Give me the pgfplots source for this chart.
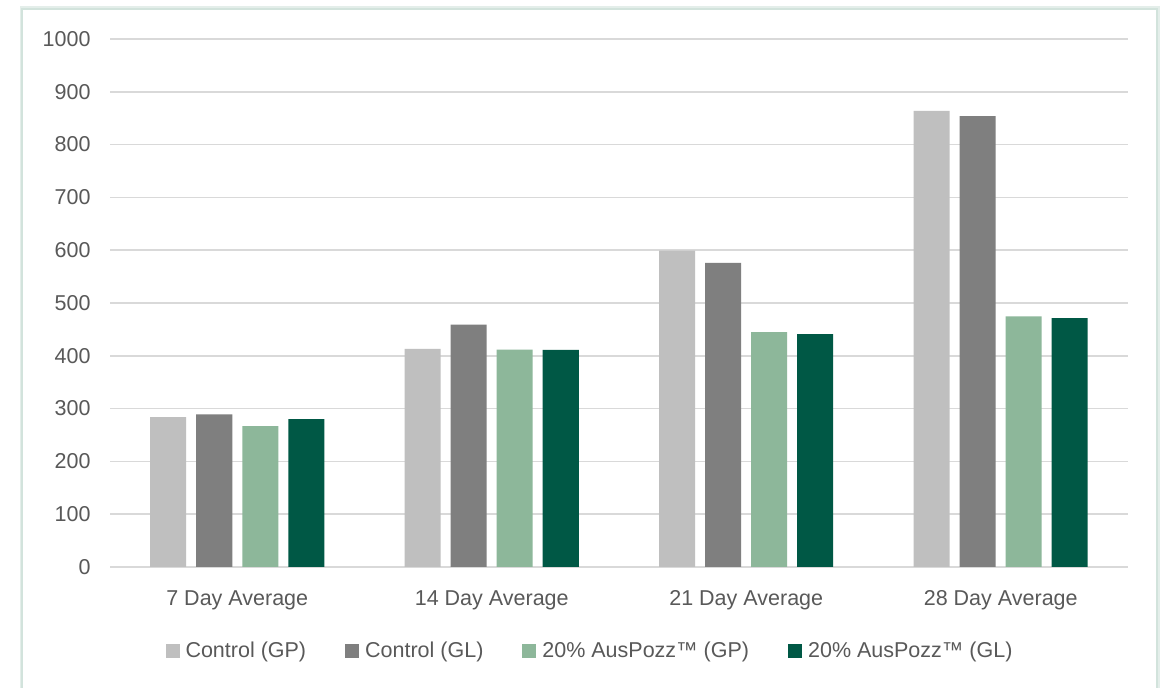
\documentclass[border=0pt]{standalone}
\usepackage{fontspec}
\setmainfont{Liberation Sans}
\usepackage{pgfplots}
\pgfplotsset{compat=1.18}
\definecolor{ctrlGP}{HTML}{BFBFBF}
\definecolor{ctrlGL}{HTML}{7F7F7F}
\definecolor{ausGP}{HTML}{8DB79A}
\definecolor{ausGL}{HTML}{005845}
\definecolor{txt}{HTML}{595959}
\definecolor{gridc}{HTML}{D9D9D9}
\definecolor{frame}{HTML}{D2E3DC}
\pgfplotsset{
  sqlegend/.style={legend image code/.code={\fill[##1] (0bp,-7bp) rectangle (14bp,7bp);}},
}
\begin{document}
\begin{tikzpicture}[x=1bp,y=1bp]
  \path[use as bounding box] (0,0) rectangle (1168,688);
  \fill[white] (0,0) rectangle (1168,688);
  \draw[frame!60, line width=5bp] (22,-10) rectangle (1157,679);
  \draw[frame, line width=1.5bp, fill=white] (22,-10) rectangle (1157,679);
  \begin{axis}[
    at={(110bp,121bp)}, anchor=south west,
    scale only axis, width=1018bp, height=528bp,
    ybar=10bp, bar width=36bp,
    xmin=-0.5, xmax=3.5, ymin=0, ymax=1000,
    xtick=data,
    xticklabels={7 Day Average,14 Day Average,21 Day Average,28 Day Average},
    ytick={0,100,...,1000},
    font=\fontsize{21.5bp}{24bp}\selectfont,
    tick label style={text=txt},
    x tick label style={yshift=-20bp},
    y tick label style={xshift=-16bp},
    /pgf/number format/assume math mode=true,
    /pgf/number format/1000 sep={},
    major tick length=0pt,
    axis line style={draw=none},
    ymajorgrids, grid style={gridc, line width=1.5bp},
    legend style={at={(0.4715,-0.159)}, anchor=center, draw=none, fill=none,
      legend columns=4, text=txt, font=\fontsize{21.5bp}{24bp}\selectfont,
      /tikz/every odd column/.append style={column sep=4bp},
      /tikz/every even column/.append style={column sep=37bp}},
    legend cell align=left,
  ]
  \addplot[fill=ctrlGP, draw=none, sqlegend] coordinates {(0,284) (1,413) (2,599) (3,864)};
  \addlegendentry{Control (GP)}
  \addplot[fill=ctrlGL, draw=none, sqlegend] coordinates {(0,289) (1,459) (2,576) (3,854)};
  \addlegendentry{Control (GL)}
  \addplot[fill=ausGP, draw=none, sqlegend] coordinates {(0,267) (1,411.5) (2,445) (3,474.5)};
  \addlegendentry{20\% AusPozz™ (GP)}
  \addplot[fill=ausGL, draw=none, sqlegend] coordinates {(0,280) (1,411) (2,441) (3,471.5)};
  \addlegendentry{20\% AusPozz™ (GL)}
  \end{axis}
\end{tikzpicture}
\end{document}
